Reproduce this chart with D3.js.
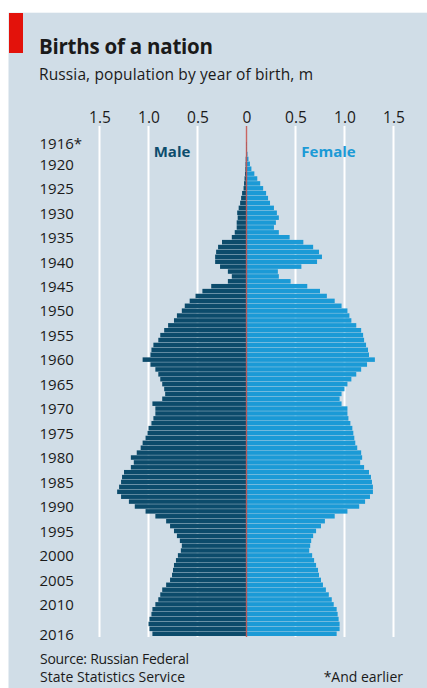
<!DOCTYPE html>
<html><head><meta charset="utf-8">
<script src="https://cdn.jsdelivr.net/npm/d3@7/dist/d3.min.js"></script>
<style>
html,body{margin:0;padding:0;background:#fff;}
svg{display:block;}
text{font-family:"Open Sans",sans-serif;}
</style></head>
<body>
<svg id="chart" width="427" height="688"></svg>
<script>
const years = d3.range(1916, 2017);
const male = [
0.005,0.005,0.005,0.008,0.01,0.012,0.015,0.02,0.025,0.03,
0.045,0.055,0.065,0.08,0.095,0.09,0.1,0.1,0.12,0.15,
0.25,0.29,0.31,0.32,0.32,0.27,0.19,0.15,0.19,0.36,
0.45,0.52,0.58,0.63,0.66,0.71,0.74,0.8,0.84,0.88,
0.9,0.95,0.97,0.98,1.06,0.98,0.93,0.9,0.88,0.86,
0.84,0.83,0.86,0.96,0.93,0.93,0.95,0.97,1.0,1.01,
1.03,1.06,1.08,1.12,1.18,1.15,1.18,1.25,1.27,1.28,
1.3,1.32,1.28,1.2,1.14,1.03,0.93,0.82,0.78,0.74,
0.71,0.68,0.66,0.67,0.7,0.72,0.74,0.75,0.76,0.78,
0.82,0.86,0.88,0.9,0.93,0.96,0.97,0.99,1.0,0.99,
0.96];
const female = [
0.005,0.005,0.01,0.02,0.035,0.05,0.08,0.11,0.14,0.17,
0.2,0.22,0.24,0.28,0.31,0.33,0.3,0.28,0.33,0.44,
0.58,0.68,0.74,0.77,0.72,0.56,0.32,0.33,0.45,0.62,
0.75,0.82,0.9,0.97,1.03,1.05,1.07,1.12,1.17,1.19,
1.2,1.22,1.24,1.25,1.31,1.23,1.17,1.12,1.07,1.03,
1.0,0.97,0.95,0.97,1.03,1.03,1.04,1.06,1.08,1.09,
1.1,1.11,1.13,1.17,1.18,1.16,1.2,1.25,1.27,1.28,
1.29,1.29,1.26,1.21,1.15,1.03,0.9,0.8,0.76,0.71,
0.68,0.66,0.65,0.64,0.67,0.69,0.71,0.73,0.74,0.76,
0.78,0.81,0.84,0.87,0.89,0.92,0.93,0.94,0.95,0.95,
0.92];
const tickValues = [-1.5,-1.0,-0.5,0,0.5,1.0,1.5];
const yearLabels = [1916,1920,1925,1930,1935,1940,1945,1950,1955,1960,1965,1970,1975,1980,1985,1990,1995,2000,2005,2010,2016];

const svg = d3.select("#chart");
const BG = "#d0dde7";
svg.append("rect").attr("x",8.5).attr("y",12.7).attr("width",427-8.5).attr("height",688-12.7).attr("fill",BG);
svg.append("rect").attr("x",9).attr("y",13).attr("width",14).attr("height",40).attr("fill","#e3120b");

function fit(sel, w){
  sel.attr("textLength", w).attr("lengthAdjust","spacing");
}

const title = svg.append("text").attr("x",39).attr("y",53.5).attr("font-size",20.5).attr("font-weight",700).attr("fill","#1a1a1a").text("Births of a nation");
fit(title,174);
const sub = svg.append("text").attr("x",39).attr("y",80).attr("font-size",15.5).attr("fill","#1a1a1a").text("Russia, population by year of birth, m");
fit(sub,274);

const cx = 246.5;
const x = d3.scaleLinear().domain([-1.5,1.5]).range([cx-147, cx+147]);
const y = d3.scaleBand().domain(years).range([142, 636]).paddingInner(0.08).paddingOuter(0);

// gridlines
svg.append("g").selectAll("line").data(tickValues.filter(d=>d!==0)).join("line")
  .attr("x1",d=>x(d)).attr("x2",d=>x(d)).attr("y1",126).attr("y2",637)
  .attr("stroke","#ffffff").attr("stroke-width",2);

// top axis labels
const axis = d3.axisTop(x).tickValues(tickValues).tickSize(0).tickPadding(0)
  .tickFormat(d=> d===0 ? "0" : d3.format(".1f")(Math.abs(d)));
const ax = svg.append("g").attr("transform","translate(0,123)").call(axis);
ax.select(".domain").remove();
ax.selectAll("text").attr("font-size",15.5).attr("fill","#1a1a1a").attr("font-family","Open Sans, sans-serif").attr("dy",0);

// bars
const g = svg.append("g");
g.selectAll("rect.m").data(years).join("rect").attr("class","m")
  .attr("x",(d,i)=>x(-male[i])).attr("width",(d,i)=>cx - x(-male[i]))
  .attr("y",d=>y(d)).attr("height",y.bandwidth()).attr("fill","#0c4b6b");
g.selectAll("rect.f").data(years).join("rect").attr("class","f")
  .attr("x",cx).attr("width",(d,i)=>x(female[i]) - cx)
  .attr("y",d=>y(d)).attr("height",y.bandwidth()).attr("fill","#1b9ad6");

// center line
svg.append("line").attr("x1",cx).attr("x2",cx).attr("y1",126).attr("y2",637)
  .attr("stroke","#c8504a").attr("stroke-width",1.4).attr("stroke-opacity",0.85);

// year labels
svg.append("g").selectAll("text").data(yearLabels).join("text")
  .attr("x",39.5).attr("y",d=>y(d)+y.bandwidth()/2+(d===1916?4.5:5.8))
  .attr("font-size",15).attr("fill","#1a1a1a")
  .text(d=> d===1916 ? "1916*" : d);

// series labels
svg.append("text").attr("x",172).attr("y",157).attr("text-anchor","middle").attr("font-size",15).attr("font-weight",700).attr("fill","#0d4d6d").text("Male");
svg.append("text").attr("x",328.5).attr("y",157).attr("text-anchor","middle").attr("font-size",15).attr("font-weight",700).attr("fill","#1b9ad6").text("Female");

// footer
const s1 = svg.append("text").attr("x",40).attr("y",663.5).attr("font-size",14).attr("fill","#1a1a1a").text("Source: Russian Federal");
fit(s1,149);
const s2 = svg.append("text").attr("x",40).attr("y",682).attr("font-size",14).attr("fill","#1a1a1a").text("State Statistics Service");
fit(s2,145);
const s3 = svg.append("text").attr("x",403).attr("y",682).attr("text-anchor","end").attr("font-size",14).attr("fill","#1a1a1a").text("*And earlier");
</script>
</body></html>
